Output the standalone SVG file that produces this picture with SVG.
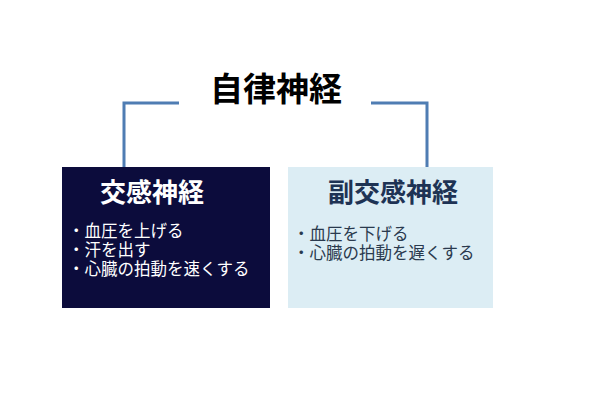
<svg xmlns="http://www.w3.org/2000/svg" width="600" height="400" viewBox="0 0 600 400">
<style>
.jp{font-family:"Liberation Sans","Noto Sans CJK JP","Noto Sans CJK SC",sans-serif;}
.title{font-size:33px;font-weight:bold;fill:#000;}
.head{font-size:26px;font-weight:bold;}
.item{font-size:16.5px;}
.conn{fill:none;stroke:#4f7db3;stroke-width:3;}
</style>
<rect width="600" height="400" fill="#fff"/>
<g id="connectors">
<polyline class="conn" points="179,103 124,103 124,167"/>
<polyline class="conn" points="371,103 427,103 427,167"/>
</g>
<g id="root">
<text class="jp title" x="276" y="101" text-anchor="middle">自律神経</text>
</g>
<g id="sympathetic">
<rect x="62" y="167" width="208" height="141" fill="#0c0c3c"/>
<text class="jp head" x="152" y="202" text-anchor="middle" fill="#fff">交感神経</text>
<text class="jp item" fill="#fff"><tspan x="68" y="237">・血圧を上げる</tspan><tspan x="68" y="256">・汗を出す</tspan><tspan x="68" y="275">・心臓の拍動を速くする</tspan></text>
</g>
<g id="parasympathetic">
<rect x="288" y="167" width="205" height="141" fill="#dcedf4"/>
<text class="jp head" x="393" y="202" text-anchor="middle" fill="#1e3354">副交感神経</text>
<text class="jp item" fill="#2a3a4e"><tspan x="293" y="240">・血圧を下げる</tspan><tspan x="293" y="259">・心臓の拍動を遅くする</tspan></text>
</g>
</svg>
